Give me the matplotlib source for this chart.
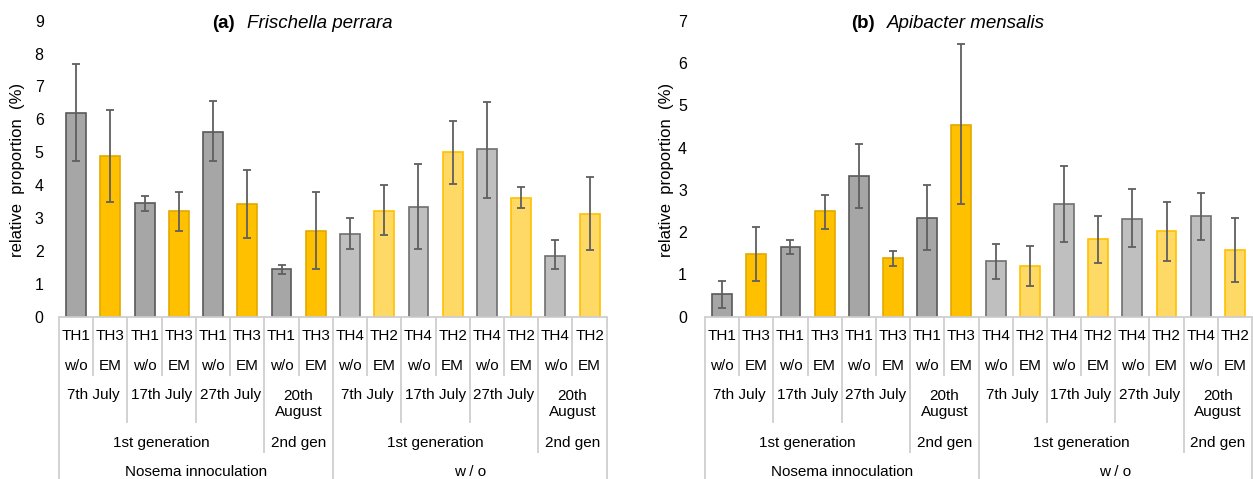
import matplotlib.pyplot as plt
from matplotlib.transforms import blended_transform_factory
import numpy as np

plt.rcParams['font.family'] = ['Liberation Sans', 'DejaVu Sans']

# category labels (one entry per bar)
th_labels = ["TH1", "TH3", "TH1", "TH3", "TH1", "TH3", "TH1", "TH3",
             "TH4", "TH2", "TH4", "TH2", "TH4", "TH2", "TH4", "TH2"]
treat_labels = ["w/o", "EM"] * 8
date_labels = ["7th July", "17th July", "27th July", "20th\nAugust"] * 2
gen_labels = ["1st generation", "2nd gen", "1st generation", "2nd gen"]
gen_sizes = [6, 2, 6, 2]
group_labels = ["Nosema innoculation", "w / o"]
group_sizes = [8, 8]

# (a) Frischella perrara
fris_mean = np.array([6.18, 4.90, 3.46, 3.21, 5.61, 3.42, 1.45, 2.60,
                      2.51, 3.21, 3.33, 5.01, 5.09, 3.62, 1.86, 3.13])
fris_low = np.array([4.72, 3.50, 3.22, 2.60, 4.72, 2.39, 1.29, 1.46,
                     2.07, 2.47, 2.07, 4.03, 3.62, 3.29, 1.46, 2.03])
fris_high = np.array([7.67, 6.28, 3.66, 3.78, 6.57, 4.47, 1.57, 3.78,
                      3.00, 3.99, 4.64, 5.95, 6.53, 3.95, 2.32, 4.24])

# (b) Apibacter mensalis
apib_mean = np.array([0.53, 1.48, 1.64, 2.50, 3.33, 1.39, 2.33, 4.53,
                      1.32, 1.20, 2.66, 1.84, 2.31, 2.03, 2.37, 1.58])
apib_low = np.array([0.21, 0.84, 1.48, 2.08, 2.56, 1.20, 1.58, 2.66,
                     0.88, 0.72, 1.77, 1.26, 1.64, 1.32, 1.81, 0.81])
apib_high = np.array([0.84, 2.12, 1.81, 2.88, 4.08, 1.55, 3.11, 6.45,
                      1.73, 1.67, 3.56, 2.37, 3.01, 2.72, 2.92, 2.34])

FILLS = {"TH1": "#a6a6a6", "TH3": "#ffc000", "TH4": "#bfbfbf", "TH2": "#ffd966"}
EDGES = {"TH1": "#595959", "TH3": "#e3a900", "TH4": "#6f6f6f", "TH2": "#ffc000"}
LINE_C = "#cfcfcf"

W, H = 1253, 479
fig = plt.figure(figsize=(W / 100, H / 100), dpi=100)


def fy(px):
    return 1 - px / H


def draw_table(ax):
    tr = blended_transform_factory(ax.transData, fig.transFigure)
    n = len(th_labels)
    x = np.arange(n)
    for i in range(n):
        ax.text(x[i], fy(336.5), th_labels[i], transform=tr, ha="center", va="center", fontsize=11)
        ax.text(x[i], fy(366.5), treat_labels[i], transform=tr, ha="center", va="center", fontsize=11)
    for j, lab in enumerate(date_labels):
        yy = 404 if "\n" in lab else 395.5
        ax.text(2 * j + 0.5, fy(yy), lab, transform=tr, ha="center", va="center",
                fontsize=11, linespacing=1.15)
    start = 0
    for lab, size in zip(gen_labels, gen_sizes):
        ax.text(start + (size - 1) / 2, fy(443), lab, transform=tr, ha="center", va="center", fontsize=11)
        start += size
    start = 0
    for lab, size in zip(group_labels, group_sizes):
        ax.text(start + (size - 1) / 2, fy(471.5), lab, transform=tr, ha="center", va="center", fontsize=11)
        start += size

    # divider lines, deeper for higher levels
    top_b = set(np.cumsum([0] + group_sizes))
    gen_b = set(np.cumsum([0] + gen_sizes))
    depth = {}
    for b in range(n + 1):
        if b in top_b:
            depth[b] = 480
        elif b in gen_b:
            depth[b] = 453
        elif b % 2 == 0:
            depth[b] = 423
        else:
            depth[b] = 376
    for b, d in depth.items():
        ax.plot([b - 0.5, b - 0.5], [fy(316.7), fy(d)], transform=tr, color=LINE_C,
                lw=1.3, clip_on=False, solid_capstyle="butt")


def draw_panel(ax, means, lows, highs, ymax, tick_pad):
    x = np.arange(len(means))
    ax.bar(x, means, width=0.58, color=[FILLS[t] for t in th_labels],
           edgecolor=[EDGES[t] for t in th_labels], linewidth=1.2, zorder=2)
    ax.errorbar(x, means, yerr=[means - lows, highs - means], fmt="none",
                ecolor="#5f5f5f", elinewidth=1.3, capsize=3, capthick=1.3, zorder=3)
    ax.set_xlim(-0.5, 15.5)
    ax.set_ylim(0, ymax)
    ax.set_yticks(range(ymax + 1))
    ax.set_xticks([])
    ax.tick_params(axis="y", length=0, pad=tick_pad, labelsize=11.5)
    for s in ["top", "right", "left"]:
        ax.spines[s].set_visible(False)
    ax.spines["bottom"].set_color(LINE_C)
    ax.spines["bottom"].set_linewidth(1.3)
    draw_table(ax)


ax_a = fig.add_axes([59 / W, fy(316.7), 547.7 / W, (316.7 - 20.7) / H])
ax_b = fig.add_axes([705 / W, fy(316.7), 547 / W, (316.7 - 20.7) / H])

draw_panel(ax_a, fris_mean, fris_low, fris_high, 9, 11)
draw_panel(ax_b, apib_mean, apib_low, apib_high, 7, 13)

fig.text(18 / W, fy(170), "relative  proportion  (%)", rotation=90, ha="center", va="center", fontsize=12)
fig.text(667 / W, fy(170), "relative  proportion  (%)", rotation=90, ha="center", va="center", fontsize=12)

fig.text(235 / W, fy(23), "(a)", ha="right", va="center", fontsize=13.5, fontweight="bold")
fig.text(247 / W, fy(23), "Frischella perrara", ha="left", va="center", fontsize=13.5, style="italic")
fig.text(875 / W, fy(23), "(b)", ha="right", va="center", fontsize=13.5, fontweight="bold")
fig.text(886.7 / W, fy(23), "Apibacter mensalis", ha="left", va="center", fontsize=13.5, style="italic")

fig.savefig("out.png", dpi=100)
